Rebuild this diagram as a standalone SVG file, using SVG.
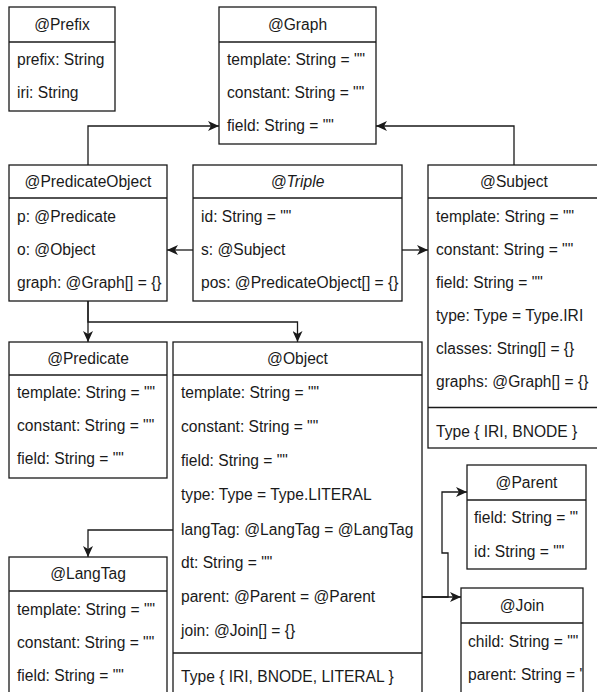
<svg xmlns="http://www.w3.org/2000/svg" width="597" height="692" viewBox="0 0 597 692">
<style>
.box{fill:#fff;stroke:#1a1a1a;stroke-width:1.3}
.sep{stroke:#1a1a1a;stroke-width:1.3;fill:none}
.h{font-family:"Liberation Sans",Arial,sans-serif;font-size:15.6px;fill:#1a1a1a;text-anchor:middle}
.t{font-family:"Liberation Sans",Arial,sans-serif;font-size:15.6px;fill:#1a1a1a}
.edge{fill:none;stroke:#1a1a1a;stroke-width:1.3;marker-end:url(#arr)}
</style>
<defs>
<marker id="arr" markerUnits="userSpaceOnUse" markerWidth="12" markerHeight="10" refX="11" refY="5" orient="auto">
<path d="M0,0 L11,5 L0,10 L3,5 Z" fill="#1a1a1a"/>
</marker>
<clipPath id="cpParent"><rect x="467" y="500" width="111" height="69"/></clipPath>
<clipPath id="cpJoin"><rect x="461" y="623" width="122" height="80"/></clipPath>
</defs>

<g id="connectors">
<path class="edge" d="M88,165 V126 H219"/>
<path class="edge" d="M514,165 V126 H376"/>
<path class="edge" d="M193,250 H167"/>
<path class="edge" d="M402,250 H428"/>
<path class="edge" d="M88,301 V342"/>
<path class="edge" d="M88,301 V322 H297.5 V342"/>
<path class="edge" d="M173,530 H88 V557"/>
<path class="edge" d="M422,597 H448 V553 H442 V492 H467"/>
<path class="edge" d="M422,597 H461"/>
</g>

<g id="Prefix">
<rect class="box" x="9" y="7" width="106" height="104"/>
<line class="sep" x1="9" y1="42" x2="115" y2="42"/>
<text class="h" x="62" y="30">@Prefix</text>
<text class="t" x="17" y="65">prefix: String</text>
<text class="t" x="17" y="98">iri: String</text>
</g>

<g id="Graph">
<rect class="box" x="219" y="7" width="157" height="137"/>
<line class="sep" x1="219" y1="42" x2="376" y2="42"/>
<text class="h" x="297.5" y="30">@Graph</text>
<text class="t" x="227" y="65">template: String = ""</text>
<text class="t" x="227" y="98">constant: String = ""</text>
<text class="t" x="227" y="131">field: String = ""</text>
</g>

<g id="PredicateObject">
<rect class="box" x="9" y="165" width="158" height="136"/>
<line class="sep" x1="9" y1="198" x2="167" y2="198"/>
<text class="h" x="88" y="187">@PredicateObject</text>
<text class="t" x="17" y="222">p: @Predicate</text>
<text class="t" x="17" y="255">o: @Object</text>
<text class="t" x="17" y="288">graph: @Graph[] = {}</text>
</g>

<g id="Triple">
<rect class="box" x="193" y="165" width="209" height="136"/>
<line class="sep" x1="193" y1="198" x2="402" y2="198"/>
<text class="h" x="297.5" y="187" font-style="italic">@Triple</text>
<text class="t" x="201" y="222">id: String = ""</text>
<text class="t" x="201" y="255">s: @Subject</text>
<text class="t" x="201" y="288">pos: @PredicateObject[] = {}</text>
</g>

<g id="Subject">
<rect class="box" x="428" y="165" width="172" height="283"/>
<line class="sep" x1="428" y1="198" x2="600" y2="198"/>
<line class="sep" x1="428" y1="407.5" x2="600" y2="407.5"/>
<text class="h" x="514" y="187">@Subject</text>
<text class="t" x="436" y="222">template: String = ""</text>
<text class="t" x="436" y="255">constant: String = ""</text>
<text class="t" x="436" y="288">field: String = ""</text>
<text class="t" x="436" y="321">type: Type = Type.IRI</text>
<text class="t" x="436" y="354">classes: String[] = {}</text>
<text class="t" x="436" y="387">graphs: @Graph[] = {}</text>
<text class="t" x="436" y="437">Type { IRI, BNODE }</text>
</g>

<g id="Predicate">
<rect class="box" x="9" y="342" width="158" height="136"/>
<line class="sep" x1="9" y1="375" x2="167" y2="375"/>
<text class="h" x="88" y="364">@Predicate</text>
<text class="t" x="17" y="398">template: String = ""</text>
<text class="t" x="17" y="431">constant: String = ""</text>
<text class="t" x="17" y="464">field: String = ""</text>
</g>

<g id="Object">
<rect class="box" x="173" y="342" width="249" height="360"/>
<line class="sep" x1="173" y1="375" x2="422" y2="375"/>
<line class="sep" x1="173" y1="653" x2="422" y2="653"/>
<text class="h" x="297.5" y="364">@Object</text>
<text class="t" x="181" y="398">template: String = ""</text>
<text class="t" x="181" y="432">constant: String = ""</text>
<text class="t" x="181" y="466">field: String = ""</text>
<text class="t" x="181" y="500">type: Type = Type.LITERAL</text>
<text class="t" x="181" y="535">langTag: @LangTag = @LangTag</text>
<text class="t" x="181" y="568">dt: String = ""</text>
<text class="t" x="181" y="602">parent: @Parent = @Parent</text>
<text class="t" x="181" y="636">join: @Join[] = {}</text>
<text class="t" x="181" y="682">Type { IRI, BNODE, LITERAL }</text>
</g>

<g id="LangTag">
<rect class="box" x="9" y="557" width="158" height="145"/>
<line class="sep" x1="9" y1="591" x2="167" y2="591"/>
<text class="h" x="88" y="579">@LangTag</text>
<text class="t" x="17" y="615">template: String = ""</text>
<text class="t" x="17" y="648">constant: String = ""</text>
<text class="t" x="17" y="681">field: String = ""</text>
</g>

<g id="Parent">
<rect class="box" x="467" y="465" width="119" height="104"/>
<line class="sep" x1="467" y1="500" x2="586" y2="500"/>
<text class="h" x="526.5" y="488">@Parent</text>
<g clip-path="url(#cpParent)">
<text class="t" x="474" y="523">field: String = ""</text>
<text class="t" x="474" y="557">id: String = ""</text>
</g>
</g>

<g id="Join">
<rect class="box" x="461" y="588" width="122" height="114"/>
<line class="sep" x1="461" y1="623" x2="583" y2="623"/>
<text class="h" x="522" y="611">@Join</text>
<g clip-path="url(#cpJoin)">
<text class="t" x="468" y="647">child: String = ""</text>
<text class="t" x="468" y="680">parent: String = ""</text>
</g>
</g>
</svg>
